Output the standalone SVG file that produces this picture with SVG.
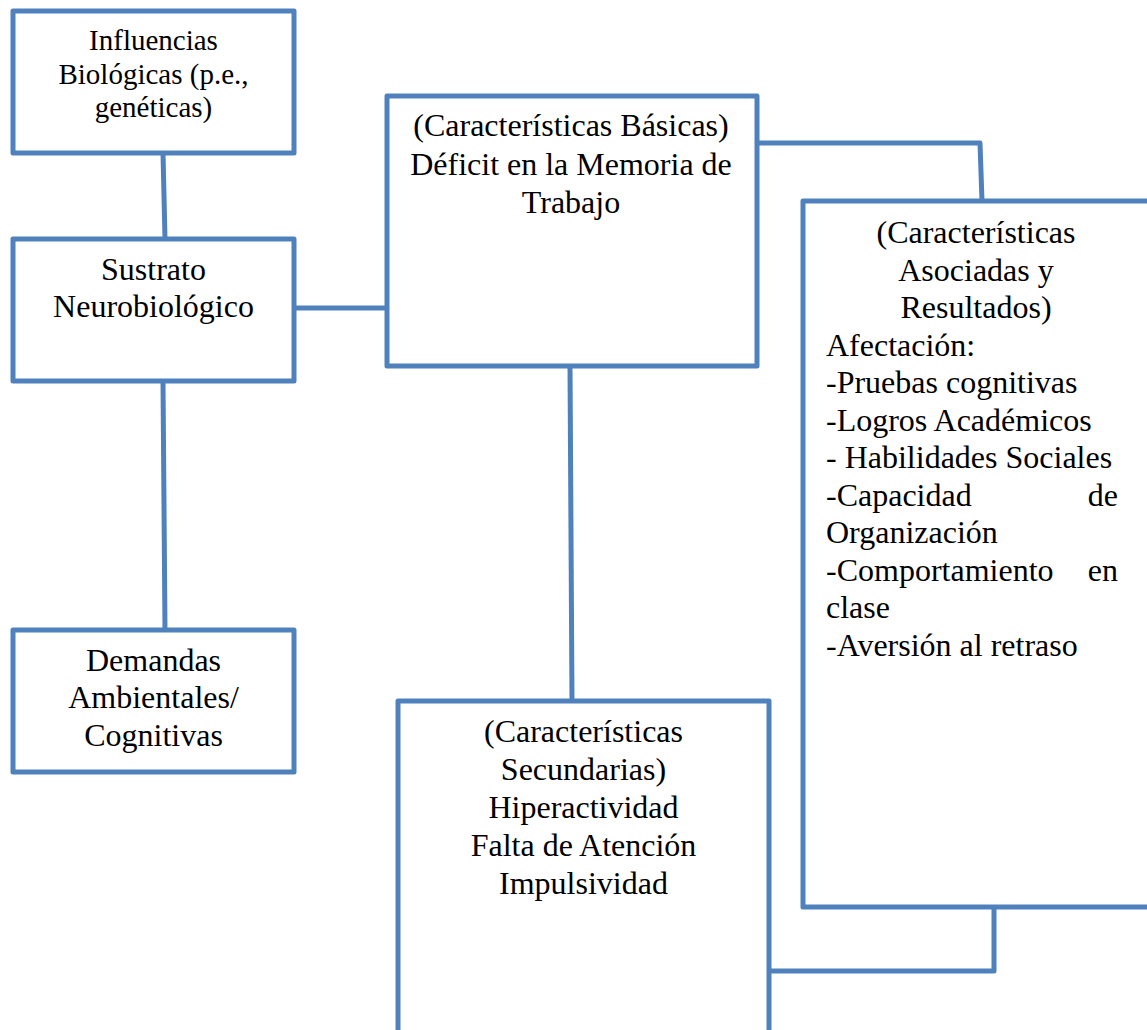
<svg xmlns="http://www.w3.org/2000/svg" width="1147" height="1030" viewBox="0 0 1147 1030">
  <style>
    .box { fill: #ffffff; stroke: #4F81BD; stroke-width: 5; stroke-linejoin: round; }
    .link { fill: none; stroke: #4F81BD; stroke-width: 5; stroke-linejoin: round; }
    .t { font-family: "Liberation Serif", "Times New Roman", serif; font-size: 32px; fill: #000000; }
    .c { text-anchor: middle; }
    .r { text-anchor: end; }
    .s { font-size: 29px; }
  </style>
  <rect width="1147" height="1030" fill="#ffffff"/>

  <!-- connectors -->
  <g id="connectors">
    <path class="link" d="M163 153 L165 239"/>
    <path class="link" d="M163 381 L165 630"/>
    <path class="link" d="M294 308 L387 308"/>
    <path class="link" d="M570 366 L572 701"/>
    <path class="link" d="M757 143 L980 143 L982 201"/>
    <path class="link" d="M769 971 L994 971 L994 907"/>
  </g>

  <g id="influencias">
    <rect class="box" x="13" y="11" width="281" height="142"/>
    <text class="t s c" x="153.5" y="50">Influencias</text>
    <text class="t s c" x="153.5" y="83.5">Biológicas (p.e.,</text>
    <text class="t s c" x="153.5" y="117">genéticas)</text>
  </g>

  <g id="sustrato">
    <rect class="box" x="13" y="239" width="281" height="142"/>
    <text class="t c" x="153.5" y="280">Sustrato</text>
    <text class="t c" x="153.5" y="317">Neurobiológico</text>
  </g>

  <g id="demandas">
    <rect class="box" x="13" y="630" width="281" height="142"/>
    <text class="t c" x="153.5" y="671">Demandas</text>
    <text class="t c" x="153.5" y="708">Ambientales/</text>
    <text class="t c" x="153.5" y="746">Cognitivas</text>
  </g>

  <g id="basicas">
    <rect class="box" x="387" y="96" width="370" height="270"/>
    <text class="t c" x="571" y="136">(Características Básicas)</text>
    <text class="t c" x="571" y="175">Déficit en la Memoria de</text>
    <text class="t c" x="571" y="213">Trabajo</text>
  </g>

  <g id="asociadas">
    <rect class="box" x="803" y="201" width="360" height="706"/>
    <text class="t c" x="976" y="243">(Características</text>
    <text class="t c" x="976" y="280.5">Asociadas y</text>
    <text class="t c" x="976" y="318">Resultados)</text>
    <text class="t" x="826" y="355.5">Afectación:</text>
    <text class="t" x="826" y="393">-Pruebas cognitivas</text>
    <text class="t" x="826" y="430.5">-Logros Académicos</text>
    <text class="t" x="826" y="468">- Habilidades Sociales</text>
    <text class="t" x="826" y="505.5">-Capacidad</text>
    <text class="t r" x="1118" y="505.5">de</text>
    <text class="t" x="826" y="543">Organización</text>
    <text class="t" x="826" y="580.5">-Comportamiento</text>
    <text class="t r" x="1118" y="580.5">en</text>
    <text class="t" x="826" y="618">clase</text>
    <text class="t" x="826" y="655.5">-Aversión al retraso</text>
  </g>

  <g id="secundarias">
    <rect class="box" x="398" y="701" width="371" height="333"/>
    <text class="t c" x="583.5" y="742">(Características</text>
    <text class="t c" x="583.5" y="780">Secundarias)</text>
    <text class="t c" x="583.5" y="818">Hiperactividad</text>
    <text class="t c" x="583.5" y="856">Falta de Atención</text>
    <text class="t c" x="583.5" y="894">Impulsividad</text>
  </g>
</svg>
